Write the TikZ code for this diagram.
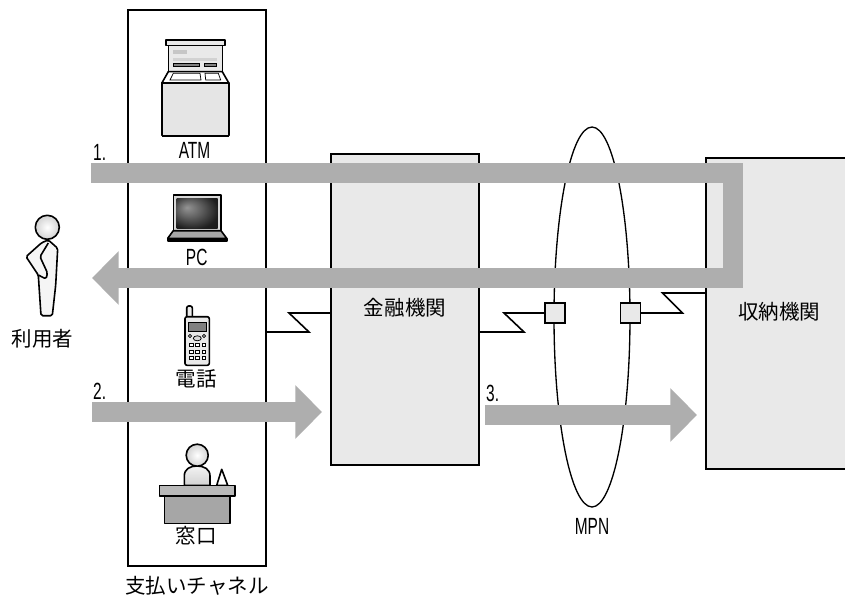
\documentclass[tikz,border=0pt]{standalone}
\usepackage{graphicx}
\usepackage{fontspec}
\setmainfont{Noto Sans CJK JP}
\newfontfamily\latinfont{Liberation Sans}
\usepackage{tikz}
\usetikzlibrary{arrows.meta, shapes.geometric, calc}
\definecolor{boxfill}{HTML}{E9E9E9}
\definecolor{flowgray}{HTML}{AEAEAE}
\pgfdeclareradialshading{screenglow}{\pgfpoint{-0.45cm}{0.35cm}}{
  color(0cm)=(black!42); color(0.5cm)=(black!62); color(1.1cm)=(black!88); color(2cm)=(black!95)}
\tikzset{
  frame/.style={draw=black, line width=0.48mm, inner sep=0pt, outer sep=0pt},
  site/.style={frame, fill=boxfill},
  port/.style={site, minimum size=6mm},
  link/.style={black, line width=0.48mm},
  flow/.style={flowgray, line width=6mm, -{Triangle[length=8mm, width=15.6mm]}},
  icon/.style={draw=black, line width=0.48mm, line join=round},
  fine/.style={draw=black, line width=0.22mm},
  caption/.style={inner sep=0pt, font=\fontsize{17.5}{20}\selectfont},
  tag/.style={inner sep=0pt, font=\fontsize{20}{22}\selectfont\latinfont},
}
\newcommand{\narrowtag}[1]{\scalebox{0.66}[1]{#1}}
\begin{document}
\begin{tikzpicture}[x=0.3mm, y=-0.3mm]
  \clip (0,0) rectangle (845,596);
  \fill[white] (0,0) rectangle (845,596);

  \node[frame, minimum width=41.4mm, minimum height=166.8mm] (channel) at (197,288) {};
  \node[site, minimum width=44.4mm, minimum height=93.3mm] (bank) at (405,309.5) {};
  \node[site, minimum width=46.2mm, minimum height=93.3mm] (biller) at (783,313.5) {};
  \node[frame, ellipse, line width=0.4mm, minimum width=22.8mm, minimum height=114mm] (mpn) at (592,317) {};
  \node[port] (portL) at (555,313) {};
  \node[port] (portR) at (630.5,313) {};

  \coordinate (channelOut) at (channel.east |- 0,332);
  \coordinate (billerIn) at (biller.west |- 0,293);
  \draw[link] (channelOut) -- ++(43,0) -- ++(-20,-19) -- (bank.west |- portL);
  \draw[link] (portL.west) -- ++(-41,0) -- ++(20,19) -- (bank.east |- channelOut);
  \draw[link] (portR.east) -- ++(42,0) -- ++(-20,-20) -- (billerIn);

  % atm
  \draw[icon, fill=boxfill] (168.3,45.7) rectangle (222.3,71.7);
  \draw[icon, fill=boxfill] (165.7,40) rectangle (225,45.7);
  \fill[gray!45] (173.3,50) rectangle (186.7,54);
  \fill[gray!35] (173.3,57.7) rectangle (216.7,60.7);
  \draw[fine, fill=gray] (173.3,63.3) rectangle (199,66.7);
  \draw[fine, fill=gray] (204.3,63.3) rectangle (216.7,66.7);
  \draw[icon, fill=white] (168.3,71.7) -- (222.3,71.7) -- (229,83.3) -- (161.7,83.3) -- cycle;
  \draw[fine] (170,80) -- (173.3,73.3) -- (200,73.3) -- (201,80) -- cycle;
  \draw[fine] (205,73.3) -- (218.3,73.3) -- (220.7,80) -- (205.7,80) -- cycle;
  \draw[icon, fill=gray!20] (161.7,83.3) rectangle (229,135.5);
  \draw[line width=0.7mm] (161.7,135.8) -- (229,135.8);

  % pc
  \draw[icon, fill=gray!30] (173.3,195) rectangle (221,230.7);
  \shade[shading=screenglow] (176.7,198.3) rectangle (217.7,228.3);
  \draw[icon, fill=gray!70] (173.3,230.7) -- (221,230.7) -- (226.7,238.3) -- (167.7,238.3) -- cycle;
  \draw[icon, fill=black] (167.7,238.3) rectangle (226.7,240.8);

  % phone
  \draw[icon, fill=gray!15, rounded corners=0.6mm] (186.7,316.7) -- (186.7,306) -- (192.3,306) -- (192.3,316.7);
  \draw[icon, fill=boxfill, rounded corners=0.6mm] (185,316.7) rectangle (209.3,365.3);
  \draw[fine, fill=gray] (188.3,322.7) rectangle (206,331);
  \draw[fine, fill=gray!30] (197.3,338.3) ellipse (4 and 2.5);
  \foreach \x in {190,204} {
    \draw[fine, fill=gray!30] (\x,336) circle (1.7);
  }
  \foreach \x in {191.3,197.3,203.7} {
    \foreach \y in {345,351.7,357.7} {
      \draw[fine, fill=white] (\x-1.8,\y-1.8) rectangle (\x+1.8,\y+1.8);
    }
  }

  % counter
  \draw[icon, fill=white] (216.7,485.3) -- (221.7,469.3) -- (227.7,485.3) -- cycle;
  \draw[icon, top color=gray!10, bottom color=gray!35] (184.3,485.3) -- (184.3,476) .. controls (184.3,469) and (190,466) .. (197,466) .. controls (204,466) and (210,469) .. (210,476) -- (210,485.3) -- cycle;
  \shade[inner color=white, outer color=gray!35] (197.2,455.2) circle (11);
  \draw[icon] (197.2,455.2) circle (11);
  \draw[icon, fill=gray!70] (164.3,496) rectangle (230,523.3);
  \draw[icon, fill=gray!55] (159.3,485.3) rectangle (235,496);

  % person
  \draw[icon, fill=gray!8, rounded corners=0.5mm] (48.3,240) -- (57.7,248.3) -- (55.7,285) -- (52.3,315.7) -- (41,315.7) -- (38.3,275) -- (26,256.7) -- (41.7,242.7) -- cycle;
  \draw[icon, rounded corners=0.5mm] (48.3,243) -- (40,256.7) -- (47.5,273) -- (46,279) -- (38.3,275);
  \shade[inner color=white, outer color=gray!35] (47.3,227.3) circle (12);
  \draw[icon] (47.3,227.3) circle (12);

  \coordinate (flowOneA) at (91,173);
  \coordinate (flowOneB) at (732.5,173);
  \coordinate (flowOneC) at (732.5,278);
  \coordinate (flowOneD) at (92,278);
  \coordinate (flowTwoA) at (92,412);
  \coordinate (flowTwoB) at (322,412);
  \coordinate (flowThreeA) at (485,415);
  \coordinate (flowThreeB) at (697,415);
  \draw[flow] (flowOneA) -- (flowOneB) -- (flowOneC) -- (flowOneD);
  \draw[flow] (flowTwoA) -- (flowTwoB);
  \draw[flow] (flowThreeA) -- (flowThreeB);

  \node[caption] (userName) at (42.5,339) {利用者};
  \node[caption] (phoneName) at (196.5,379) {電話};
  \node[caption] (counterName) at (196,536) {窓口};
  \node[caption] (channelName) at (197,585.5) {支払いチャネル};
  \node[caption] (bankName) at (405,308) {金融機関};
  \node[caption] (billerName) at (779,312) {収納機関};
  \node[tag] (atmName) at (194.5,150) {\narrowtag{ATM}};
  \node[tag] (pcName) at (196.7,257) {\narrowtag{PC}};
  \node[tag] (mpnName) at (592,526) {\narrowtag{MPN}};
  \node[tag, anchor=west] (stepOne) at (93,152) {\narrowtag{1.}};
  \node[tag, anchor=west] (stepTwo) at (93,391) {\narrowtag{2.}};
  \node[tag, anchor=west] (stepThree) at (486,393) {\narrowtag{3.}};
\end{tikzpicture}
\end{document}
